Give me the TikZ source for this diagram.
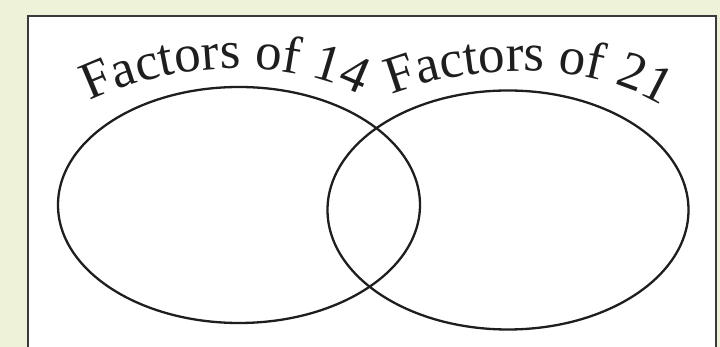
\documentclass[tikz,border=0pt]{standalone}
\usepackage{fontspec}
\setmainfont{Liberation Serif}
\definecolor{PageGreen}{HTML}{EDF2D9}
\definecolor{FrameGrey}{HTML}{3A3A3A}
\definecolor{InkBlack}{HTML}{1E1E1E}
\usetikzlibrary{shapes.geometric,decorations.text}

\begin{document}
\begin{tikzpicture}[
    x=1pt, y=1pt,
    setring/.style={
      draw=InkBlack,
      line width=2.3pt,
      ellipse,
      inner sep=0pt
    },
    arclabel/.style={
      decorate,
      decoration={text along path, text align=center, text color=InkBlack}
    }
  ]
    \fill[PageGreen] (0,0) rectangle (720,347);
    \useasboundingbox (0,0) rectangle (720,347);
    \fill[white] (28,0) rectangle (716,331);
    \draw[FrameGrey, line width=2.4pt] (28,-3) -- (28,331) -- (716,331) -- (716,-3);

    \node[setring, minimum width=362pt, minimum height=236pt] (fourteen) at (239,142) {};
    \node[setring, minimum width=361pt, minimum height=239pt] (twentyone) at (508,137) {};

    % labels bent over the two sets
    \path[arclabel, decoration={text={|\fontsize{53}{58}\selectfont|Factors of 14}}]
      (80,241) .. controls (170,288) and (290,292) .. (370,247);
    \path[arclabel, decoration={text={|\fontsize{53}{58}\selectfont|Factors of 21}}]
      (385,250) .. controls (470,285) and (590,288) .. (668,238);
  \end{tikzpicture}
\end{document}
